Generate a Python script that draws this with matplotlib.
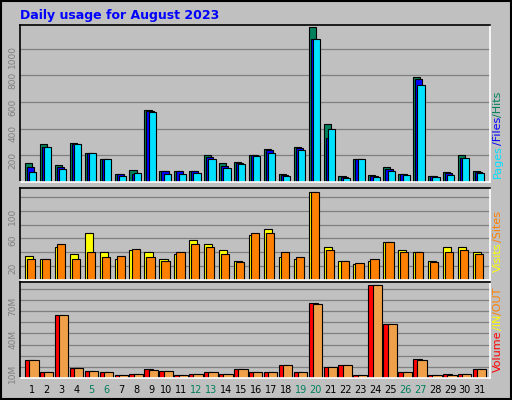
import numpy as np
import matplotlib.pyplot as plt

days = list(range(1, 32))
weekend = [5, 6, 12, 13, 19, 20, 26, 27]

hits = [145, 282, 130, 290, 221, 176, 61, 92, 537, 84, 84, 84, 199, 145, 153, 206,
        244, 61, 260, 1160, 435, 46, 170, 53, 109, 61, 791, 46, 76, 199, 84]
files = [115, 260, 115, 282, 219, 176, 58, 58, 532, 79, 81, 79, 191, 122, 140, 201,
         237, 53, 252, 1076, 331, 41, 170, 48, 99, 61, 774, 46, 66, 183, 76]
pages = [76, 260, 99, 282, 214, 170, 48, 69, 527, 61, 61, 69, 176, 104, 137, 193,
         221, 48, 237, 1076, 397, 31, 170, 38, 84, 53, 725, 41, 53, 183, 69]
visits = [34, 31, 48, 38, 68, 40, 31, 43, 40, 30, 38, 58, 52, 43, 28, 65,
          74, 33, 31, 127, 48, 27, 23, 28, 55, 44, 41, 27, 47, 47, 40]
sites = [31, 31, 52, 31, 40, 33, 34, 45, 33, 28, 40, 52, 47, 38, 26, 68,
         68, 40, 33, 127, 43, 28, 24, 30, 55, 40, 40, 26, 40, 43, 37]
vol_in = [16, 5, 56, 9, 6, 5, 3, 4, 8, 6, 3, 4, 5, 4, 8, 5,
          5, 12, 5, 67, 10, 12, 3, 83, 48, 5, 17, 3, 4, 4, 8]
vol_out = [16, 5, 56, 9, 6, 5, 3, 4, 7, 6, 3, 4, 5, 4, 8, 5,
           5, 12, 5, 66, 10, 12, 3, 83, 48, 5, 16, 3, 3, 4, 8]

W, H = 512, 400
fig = plt.figure(figsize=(W / 100, H / 100), dpi=100, facecolor="#c0c0c0")
x = np.array(days)


def make_ax(top, bottom):
    ax = fig.add_axes([20 / W, 1 - bottom / H, 470 / W, (bottom - top) / H])
    ax.set_facecolor("#c0c0c0")
    ax.set_xlim(0.2, 31.68)
    ax.set_xticks([])
    for s in ax.spines.values():
        s.set_color("white")
        s.set_linewidth(1.2)
    ax.spines["top"].set_color("black")
    ax.spines["left"].set_color("black")
    ax.yaxis.grid(True, color="#808080", linewidth=0.9)
    ax.set_axisbelow(True)
    ax.tick_params(axis="y", length=0, labelsize=6.5, labelcolor="#808080",
                   labelrotation=90, pad=2)
    return ax


kw = dict(align="edge", edgecolor="black", linewidth=0.8)

ax1 = make_ax(25, 182)
ax1.bar(x - 0.47, hits, 0.48, color="#00805c", **kw)
ax1.bar(x - 0.33, files, 0.48, color="#0000ff", **kw)
ax1.bar(x - 0.18, pages, 0.48, color="#00e0ff", **kw)
ax1.set_ylim(0, 1178)
ax1.set_yticks([200, 400, 600, 800, 1000])

ax2 = make_ax(188, 280)
ax2.bar(x - 0.47, visits, 0.55, color="#ffff00", **kw)
ax2.bar(x - 0.33, sites, 0.55, color="#ff8000", **kw)
ax2.set_ylim(0, 133)
ax2.set_yticks([20, 40, 60, 80, 100, 120])
ax2.set_yticklabels(["20", "", "60", "", "100", ""])

ax3 = make_ax(282, 378)
ax3.bar(x - 0.47, vol_in, 0.6, color="#ff0000", **kw)
ax3.bar(x - 0.18, vol_out, 0.62, color="#f0a048", **kw)
ax3.set_ylim(0, 86)
ax3.set_yticks([10, 20, 30, 40, 50, 60, 70, 80])
ax3.set_yticklabels(["10M", "", "", "40M", "", "", "70M", ""])

for d in days:
    ax3.text(d, -6, str(d), ha="center", va="top", fontsize=7,
             color="#00805c" if d in weekend else "black")

fig.text(20 / W, 1 - 15 / H, "Daily usage for August 2023", color="#0000ff",
         fontsize=9, fontweight="bold", va="center")


def side_label(parts, ybottom):
    y = ybottom
    for txt, col in parts:
        t = fig.text(498 / W, 1 - y / H, txt, color=col, rotation=90, fontsize=8,
                     ha="center", va="bottom")
        fig.canvas.draw()
        y -= t.get_window_extent().height


side_label([("Pages", "#00e0ff"), ("/Files", "#0000ff"), ("/Hits", "#00805c")], 178)
side_label([("Visits", "#ffff00"), ("/Sites", "#ff8000")], 272)
side_label([("Volume", "#ff0000"), ("/IN", "#ffff00"), ("/OUT", "#ff8000")], 372)

fig.add_artist(plt.Rectangle((1 / W, 1 / H), 1 - 2 / W, 1 - 2 / H, fill=False,
                             edgecolor="black", linewidth=1.5,
                             transform=fig.transFigure))

fig.savefig("out.png", dpi=100, facecolor=fig.get_facecolor())
